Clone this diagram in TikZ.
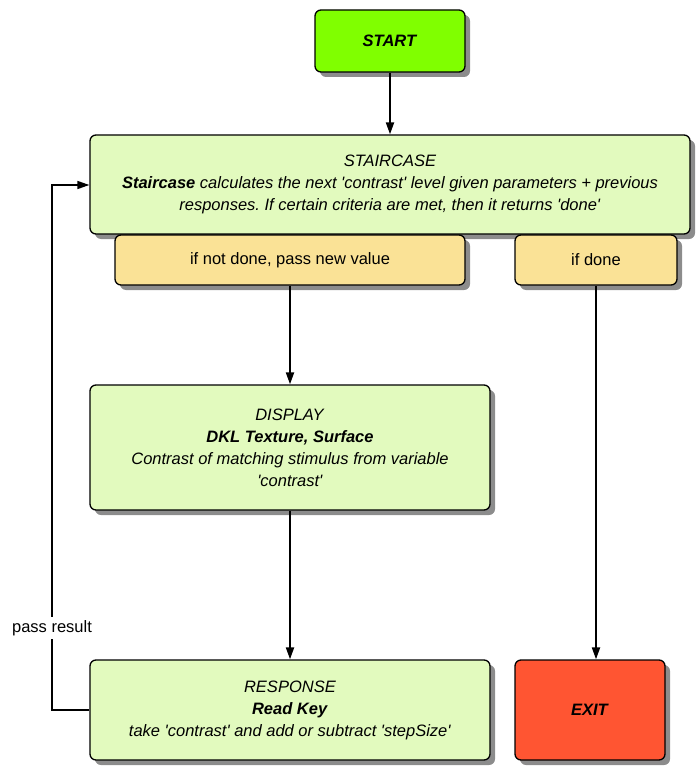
\documentclass[tikz,border=0pt]{standalone}
\usepackage{fontspec}
\setmainfont{Liberation Sans}
\usetikzlibrary{shadows,arrows.meta}
\frenchspacing
\definecolor{startgreen}{RGB}{128,255,0}
\definecolor{boxgreen}{RGB}{226,250,190}
\definecolor{boxorange}{RGB}{250,226,150}
\definecolor{exitred}{RGB}{255,85,50}
\definecolor{shadowgray}{RGB}{140,140,140}
\newcommand{\sq}{\textquotesingle}
\tikzset{
  box/.style={draw=black, line width=1.3pt, rounded corners=6pt, align=center,
    font=\fontsize{16.5}{22}\selectfont,
    drop shadow={shadow xshift=5pt, shadow yshift=-5pt, fill=shadowgray, opacity=1}},
  flow/.style={line width=2pt, -{Triangle[length=12pt,width=8pt]}},
}
\begin{document}
\begin{tikzpicture}[x=1pt,y=-1pt]
\useasboundingbox (0,0) rectangle (700,770);
\node[box, fill=startgreen, minimum width=150pt, minimum height=62pt] (start) at (390,41) {\textbf{\textit{START}}};
\node[box, fill=boxgreen, minimum width=600pt, minimum height=99pt] (stair) at (390,184.5)
  {\textit{STAIRCASE}\\\textbf{\textit{Staircase}} \textit{calculates the next \sq contrast\sq\ level given parameters + previous}\\\textit{responses. If certain criteria are met, then it returns \sq done\sq}};
\node[box, fill=boxorange, minimum width=350pt, minimum height=50pt] (notdone) at (290,260) {if not done, pass new value};
\node[box, fill=boxorange, minimum width=162pt, minimum height=50pt] (done) at (596,260) {if done};
\node[box, fill=boxgreen, minimum width=400pt, minimum height=125pt] (display) at (290,447.5)
  {\textit{DISPLAY}\\\textbf{\textit{DKL Texture, Surface}}\\\textit{Contrast of matching stimulus from variable}\\\textit{\sq contrast\sq}};
\node[box, fill=boxgreen, minimum width=400pt, minimum height=100pt] (response) at (290,710)
  {\textit{RESPONSE}\\\textbf{\textit{Read Key}}\\\textit{take \sq contrast\sq\ and add or subtract \sq stepSize\sq}};
\node[box, fill=exitred, minimum width=150pt, minimum height=100pt] (exit) at (590,710) {\textbf{\textit{EXIT}}};
\coordinate (loopb) at (52,710);
\coordinate (loopt) at (52,185);
\draw[flow] (start) -- (stair);
\draw[flow] (notdone) -- (display);
\draw[flow] (display) -- (response);
\draw[flow] (done.south) -- (done.south |- exit.north);
\draw[line width=1.5pt, -{Triangle[length=12pt,width=8pt]}] (response.west) -- (loopb) -- node[pos=0.156, fill=white, inner xsep=1pt, inner ysep=3pt, font=\fontsize{16.5}{18}\selectfont] (lbl) {pass result} (loopt) -- (stair.west |- loopt);
\end{tikzpicture}
\end{document}
